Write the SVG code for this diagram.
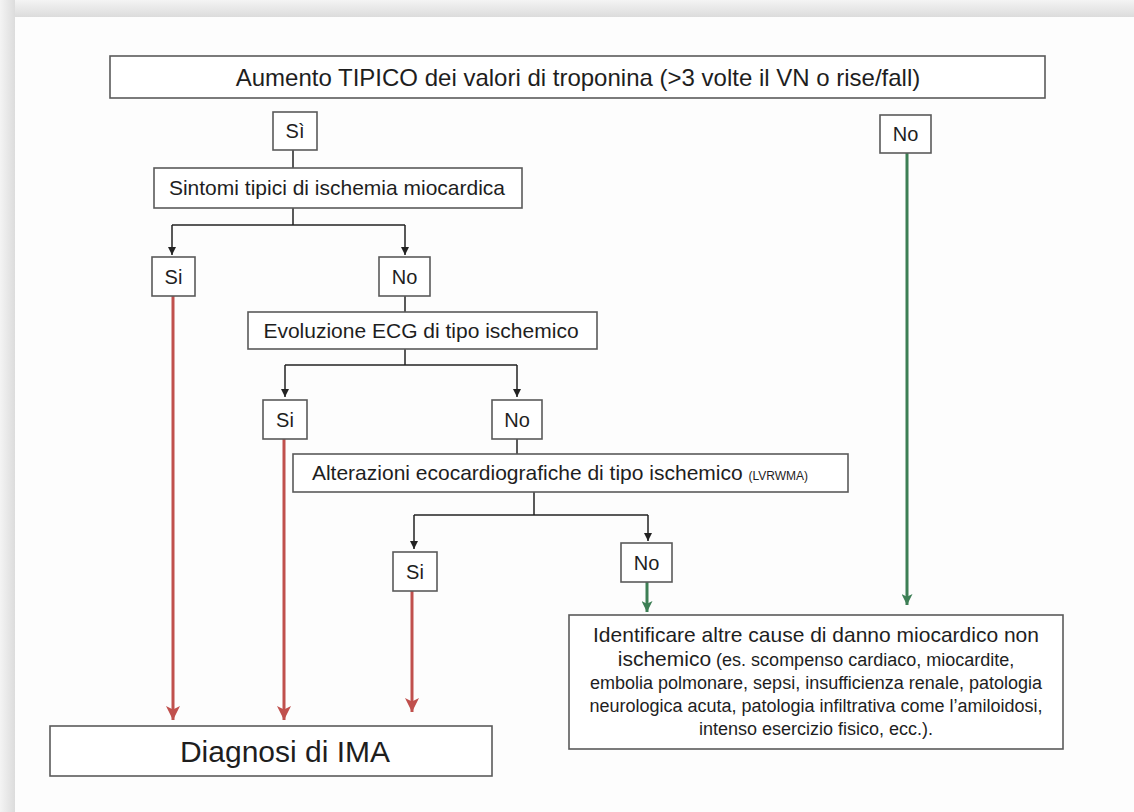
<svg xmlns="http://www.w3.org/2000/svg" width="1134" height="812" viewBox="0 0 1134 812">
<defs>
<linearGradient id="shTop" x1="0" y1="0" x2="0" y2="1">
<stop offset="0" stop-color="#f4f4f4"/>
<stop offset="1" stop-color="#dcdcdc"/>
</linearGradient>
<linearGradient id="shLeft" x1="0" y1="0" x2="1" y2="0">
<stop offset="0" stop-color="#f4f4f4"/>
<stop offset="1" stop-color="#dcdcdc"/>
</linearGradient>
<marker id="ab" viewBox="0 0 10 10" refX="10" refY="5" markerWidth="8" markerHeight="9" markerUnits="userSpaceOnUse" orient="auto">
<path d="M0,0 L10,5 L0,10 z" fill="#222"/>
</marker>
<marker id="ar" viewBox="0 0 10 10" refX="10" refY="5" markerWidth="14" markerHeight="14" markerUnits="userSpaceOnUse" orient="auto">
<path d="M0,0 L10,5 L0,10 L2.5,5 z" fill="#c0504d"/>
</marker>
<marker id="ag" viewBox="0 0 10 10" refX="10" refY="5" markerWidth="11" markerHeight="11" markerUnits="userSpaceOnUse" orient="auto">
<path d="M0,0 L10,5 L0,10 L2.5,5 z" fill="#3d7f55"/>
</marker>
</defs>
<style>
.box{fill:#ffffff;stroke:#5a5a5a;stroke-width:1.6}
.t{font-family:"Liberation Sans",Arial,sans-serif;fill:#1e1e1e;text-anchor:middle}
.m{font-size:21px}
.s{font-size:18px}
.yn{font-size:20px}
.c{fill:none;stroke:#222;stroke-width:1.5}
.r{fill:none;stroke:#c0504d;stroke-width:3}
.g{fill:none;stroke:#3d7f55;stroke-width:3}
</style>
<rect x="0" y="0" width="1134" height="812" fill="#f6f6f6"/>
<rect x="0" y="0" width="1134" height="17" fill="url(#shTop)"/>
<rect x="0" y="0" width="15" height="812" fill="url(#shLeft)"/>
<rect x="15" y="17" width="1119" height="795" fill="#fdfdfd"/>

<g id="connectors">
<line class="c" x1="293" y1="150" x2="293" y2="168"/>
<polyline class="c" points="293,208 293,225"/>
<polyline class="c" points="172,225 405,225"/>
<line class="c" x1="172" y1="225" x2="172" y2="255" marker-end="url(#ab)"/>
<line class="c" x1="405" y1="225" x2="405" y2="255" marker-end="url(#ab)"/>
<line class="c" x1="405" y1="296" x2="405" y2="312"/>
<line class="c" x1="405" y1="349" x2="405" y2="365"/>
<polyline class="c" points="285,365 517,365"/>
<line class="c" x1="285" y1="365" x2="285" y2="397" marker-end="url(#ab)"/>
<line class="c" x1="517" y1="365" x2="517" y2="397" marker-end="url(#ab)"/>
<line class="c" x1="517" y1="439" x2="517" y2="454"/>
<line class="c" x1="534" y1="492" x2="534" y2="515"/>
<polyline class="c" points="414,515 648,515"/>
<line class="c" x1="414" y1="515" x2="414" y2="549" marker-end="url(#ab)"/>
<line class="c" x1="648" y1="515" x2="648" y2="541" marker-end="url(#ab)"/>
<line class="g" x1="647" y1="582" x2="647" y2="612" marker-end="url(#ag)"/>
<line class="g" x1="907" y1="153" x2="907" y2="605" marker-end="url(#ag)"/>
<line class="r" x1="173" y1="296" x2="173" y2="720" marker-end="url(#ar)"/>
<line class="r" x1="284" y1="439" x2="284" y2="720" marker-end="url(#ar)"/>
<line class="r" x1="412" y1="591" x2="412" y2="712" marker-end="url(#ar)"/>
</g>

<g id="n-top">
<rect class="box" x="110" y="56" width="935" height="42"/>
<text class="t" x="578" y="86" font-size="24">Aumento TIPICO dei valori di troponina (&gt;3 volte il VN o rise/fall)</text>
</g>
<g id="n-si1">
<rect class="box" x="273" y="112" width="44" height="38"/>
<text class="t yn" x="295" y="138">Sì</text>
</g>
<g id="n-no-top">
<rect class="box" x="880" y="115" width="51" height="38"/>
<text class="t yn" x="905.5" y="141">No</text>
</g>
<g id="n-sintomi">
<rect class="box" x="154" y="168" width="368" height="40"/>
<text class="t m" x="337" y="195">Sintomi tipici di ischemia miocardica</text>
</g>
<g id="n-si2">
<rect class="box" x="152" y="257" width="43" height="39"/>
<text class="t yn" x="173.5" y="284">Si</text>
</g>
<g id="n-no2">
<rect class="box" x="379" y="257" width="51" height="39"/>
<text class="t yn" x="404.5" y="284">No</text>
</g>
<g id="n-ecg">
<rect class="box" x="248" y="312" width="349" height="37"/>
<text class="t m" x="421" y="338">Evoluzione ECG di tipo ischemico</text>
</g>
<g id="n-si3">
<rect class="box" x="263" y="400" width="44" height="39"/>
<text class="t yn" x="285" y="427">Si</text>
</g>
<g id="n-no3">
<rect class="box" x="492" y="400" width="50" height="39"/>
<text class="t yn" x="517" y="427">No</text>
</g>
<g id="n-eco">
<rect class="box" x="293" y="454" width="555" height="38"/>
<text class="t m" x="560" y="480">Alterazioni ecocardiografiche di tipo ischemico <tspan font-size="12">(LVRWMA)</tspan></text>
</g>
<g id="n-si4">
<rect class="box" x="393" y="552" width="44" height="39"/>
<text class="t yn" x="415" y="579">Si</text>
</g>
<g id="n-no4">
<rect class="box" x="621" y="543" width="51" height="39"/>
<text class="t yn" x="646.5" y="570">No</text>
</g>
<g id="n-altre">
<rect class="box" x="569" y="615" width="494" height="134"/>
<text class="t m" x="816" y="642">Identificare altre cause di danno miocardico non</text>
<text class="t s" x="816" y="666"><tspan font-size="21">ischemico</tspan> (es. scompenso cardiaco, miocardite,</text>
<text class="t s" x="816" y="689">embolia polmonare, sepsi, insufficienza renale, patologia</text>
<text class="t s" x="816" y="712">neurologica acuta, patologia infiltrativa come l’amiloidosi,</text>
<text class="t s" x="816" y="735">intenso esercizio fisico, ecc.).</text>
</g>
<g id="n-ima">
<rect class="box" x="50" y="726" width="442" height="50"/>
<text class="t" x="285" y="762" font-size="30">Diagnosi di IMA</text>
</g>
</svg>
